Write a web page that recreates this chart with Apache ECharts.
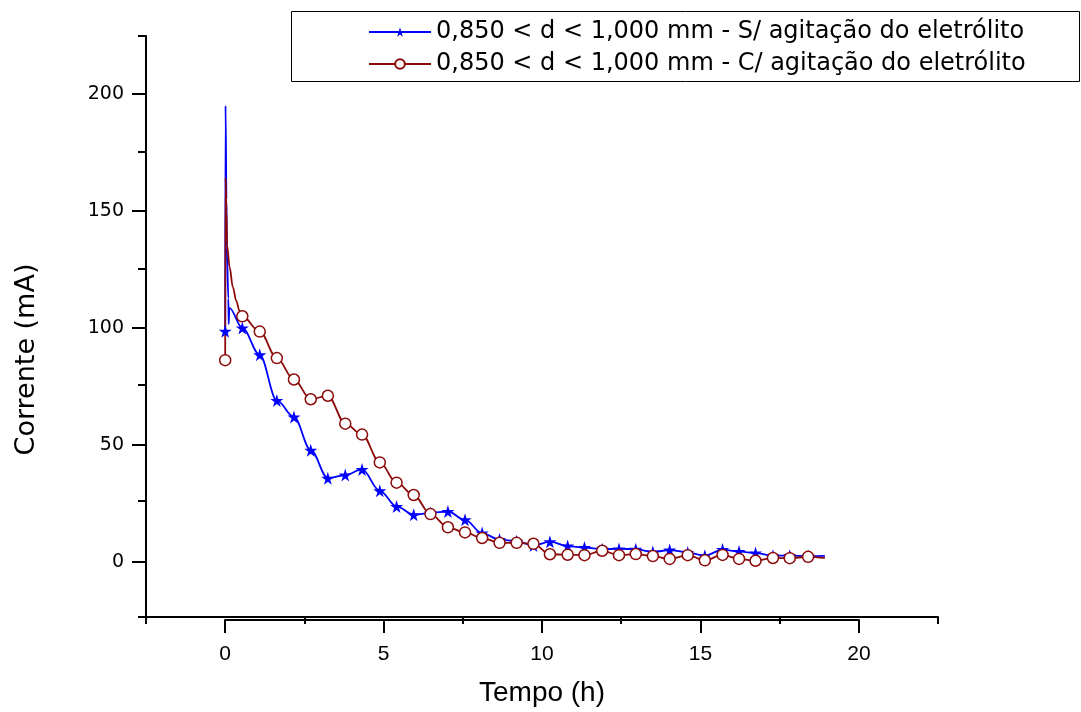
<!DOCTYPE html>
<html>
<head>
<meta charset="utf-8">
<script src="https://cdn.jsdelivr.net/npm/echarts@6/dist/echarts.min.js"></script>
<style>
html,body{margin:0;padding:0;background:#fff;}
#chart{width:1081px;height:712px;}
</style>
</head>
<body>
<div id="chart"></div>
<script>
// ---- data ----
const seriesNames = [
  '0,850 < d < 1,000 mm - S/ agitação do eletrólito',
  '0,850 < d < 1,000 mm - C/ agitação do eletrólito'
];
// marker times (h)
const times = [0,0.54,1.09,1.63,2.17,2.7,3.24,3.79,4.32,4.88,5.41,5.95,6.48,7.03,7.57,8.11,8.66,9.2,9.73,10.25,10.81,11.34,11.9,12.43,12.96,13.5,14.03,14.6,15.14,15.7,16.22,16.74,17.29,17.82,18.4];
// S/ agitação (blue, stars)
const currentS = [98,99.4,87.8,68.2,61.1,46.8,34.7,36.1,38.5,29.3,22.6,19.0,19.8,20.4,16.8,11.1,8.3,7.6,5.8,7.4,5.5,4.9,4.2,4.3,4.2,3.0,3.8,2.8,1.4,4.0,3.2,2.5,1.4,1.4,1.2];
// C/ agitação (dark red, open circles)
const currentC = [85.5,104.4,97.8,86.4,77.2,68.7,70.2,58.2,53.5,41.5,32.8,27.5,19.3,13.6,11.4,9.0,6.9,6.9,6.5,2.0,1.8,1.6,3.5,1.6,2.1,1.2,0.0,1.6,-0.6,1.7,0.0,-0.8,0.4,0.3,0.9];
// initial transient (unmarked samples) and final sample
const spikeTimesS = [0.01,0.04,0.05,0.10,0.11,0.13];
const spikeS = [195,155,134,112,101,108];
const spikeTimesC = [0.01,0.04,0.06,0.14,0.24,0.35,0.45];
const spikeC = [164,150,135,125.5,117,111,106.8];
const endTime = 18.93;
const endS = 1.3;
const endC = 0.4;

// axis ranges / ticks
const xRange = [-2.5, 22.5], xLabelRange = [0, 20], xMajorStep = 5;
const yRange = [-25, 225], yLabelRange = [0, 200], yMajorStep = 50;

function buildData(vals, spT, spV, endV) {
  const d = [{value:[times[0], vals[0]]}];
  spT.forEach((t,i)=>d.push({value:[t, spV[i]], symbol:'none'}));
  for (let i=1;i<times.length;i++) d.push({value:[times[i], vals[i]]});
  d.push({value:[endTime, endV], symbol:'none'});
  return d;
}

const starPath = 'path://M50,0 L61,35 L98,35 L68,57 L79,91 L50,70 L21,91 L32,57 L2,35 L39,35 Z';
const blue = '#0000ff';
const red = '#8b0a0a';
const font = 'Liberation Sans, Arial, sans-serif';
const font2 = 'DejaVu Sans, sans-serif';

// plot area in px
const G = {left:146, right:143, top:36, bottom:92, W:1081, H:712};
const pxX = (G.W - G.left - G.right) / (xRange[1]-xRange[0]);
const pxY = (G.H - G.top - G.bottom) / (yRange[1]-yRange[0]);
// second grid covering only the labelled span, so major ticks start at 0
const g2 = {
  left: Math.round(G.left + (xLabelRange[0]-xRange[0])*pxX),
  right: Math.round(G.right + (xRange[1]-xLabelRange[1])*pxX),
  top: Math.round(G.top + (yRange[1]-yLabelRange[1])*pxY),
  bottom: Math.round(G.bottom + (yLabelRange[0]-yRange[0])*pxY)
};

const chart = echarts.init(document.getElementById('chart'), null, {renderer:'canvas'});
chart.setOption({
  animation:false,
  backgroundColor:'#fff',
  grid:[
    {left:G.left, right:G.right, top:G.top, bottom:G.bottom, containLabel:false},
    {left:g2.left, right:g2.right, top:g2.top, bottom:g2.bottom, containLabel:false}
  ],
  graphic:[{
    type:'rect', left:289, top:9, z:100,
    shape:{width:788, height:70},
    style:{fill:'none', stroke:'#000', lineWidth:1}
  }],
  legend:{
    left:368, top:20, orient:'vertical', itemGap:8, padding:0,
    itemWidth:62, itemHeight:12,
    textStyle:{fontFamily:font2, fontSize:24, color:'#000'},
    data:seriesNames
  },
  xAxis:[{
    gridIndex:0, type:'value', min:xRange[0], max:xRange[1], interval:xMajorStep,
    axisLine:{show:true, onZero:false, lineStyle:{color:'#000', width:2}},
    axisTick:{show:true, length:7, lineStyle:{color:'#000', width:2}},
    axisLabel:{show:false},
    splitLine:{show:false},
    name:'Tempo (h)', nameLocation:'middle', nameGap:62,
    nameTextStyle:{fontFamily:font, fontSize:28, color:'#000'}
  },{
    gridIndex:1, type:'value', min:xLabelRange[0], max:xLabelRange[1], interval:xMajorStep,
    position:'bottom', offset:(g2.bottom - G.bottom),
    axisLine:{show:true, onZero:false, lineStyle:{color:'#000', width:2}},
    axisTick:{show:true, inside:false, length:13, lineStyle:{color:'#000', width:2}},
    axisLabel:{fontFamily:font, fontSize:21, color:'#000', margin:24},
    splitLine:{show:false}
  }],
  yAxis:[{
    gridIndex:0, type:'value', min:yRange[0], max:yRange[1], interval:yMajorStep,
    axisLine:{show:true, onZero:false, lineStyle:{color:'#000', width:2}},
    axisTick:{show:true, length:8, lineStyle:{color:'#000', width:2}},
    axisLabel:{show:false},
    splitLine:{show:false},
    name:'Corrente (mA)', nameLocation:'middle', nameGap:106,
    nameTextStyle:{fontFamily:font2, fontSize:27, color:'#000', padding:[0,66,0,0]}
  },{
    gridIndex:1, type:'value', min:yLabelRange[0], max:yLabelRange[1], interval:yMajorStep,
    position:'left', offset:(g2.left - G.left),
    axisLine:{show:true, onZero:false, lineStyle:{color:'#000', width:2}},
    axisTick:{show:true, length:14, lineStyle:{color:'#000', width:2}},
    axisLabel:{fontFamily:font2, fontSize:19, color:'#000', margin:22},
    splitLine:{show:false}
  }],
  series:[{
    name:seriesNames[0], type:'line', xAxisIndex:0, yAxisIndex:0,
    data:buildData(currentS, spikeTimesS, spikeS, endS),
    smooth:0.35, smoothMonotone:'x',
    symbol:starPath, symbolSize:13,
    lineStyle:{color:blue, width:1.8},
    itemStyle:{color:blue, borderWidth:0},
    showAllSymbol:true
  },{
    name:seriesNames[1], type:'line', xAxisIndex:0, yAxisIndex:0,
    data:buildData(currentC, spikeTimesC, spikeC, endC),
    smooth:0.35, smoothMonotone:'x',
    symbol:'circle', symbolSize:11,
    lineStyle:{color:red, width:1.8},
    itemStyle:{color:'#fff', borderColor:red, borderWidth:1.5},
    showAllSymbol:true
  }]
});
</script>
</body>
</html>
